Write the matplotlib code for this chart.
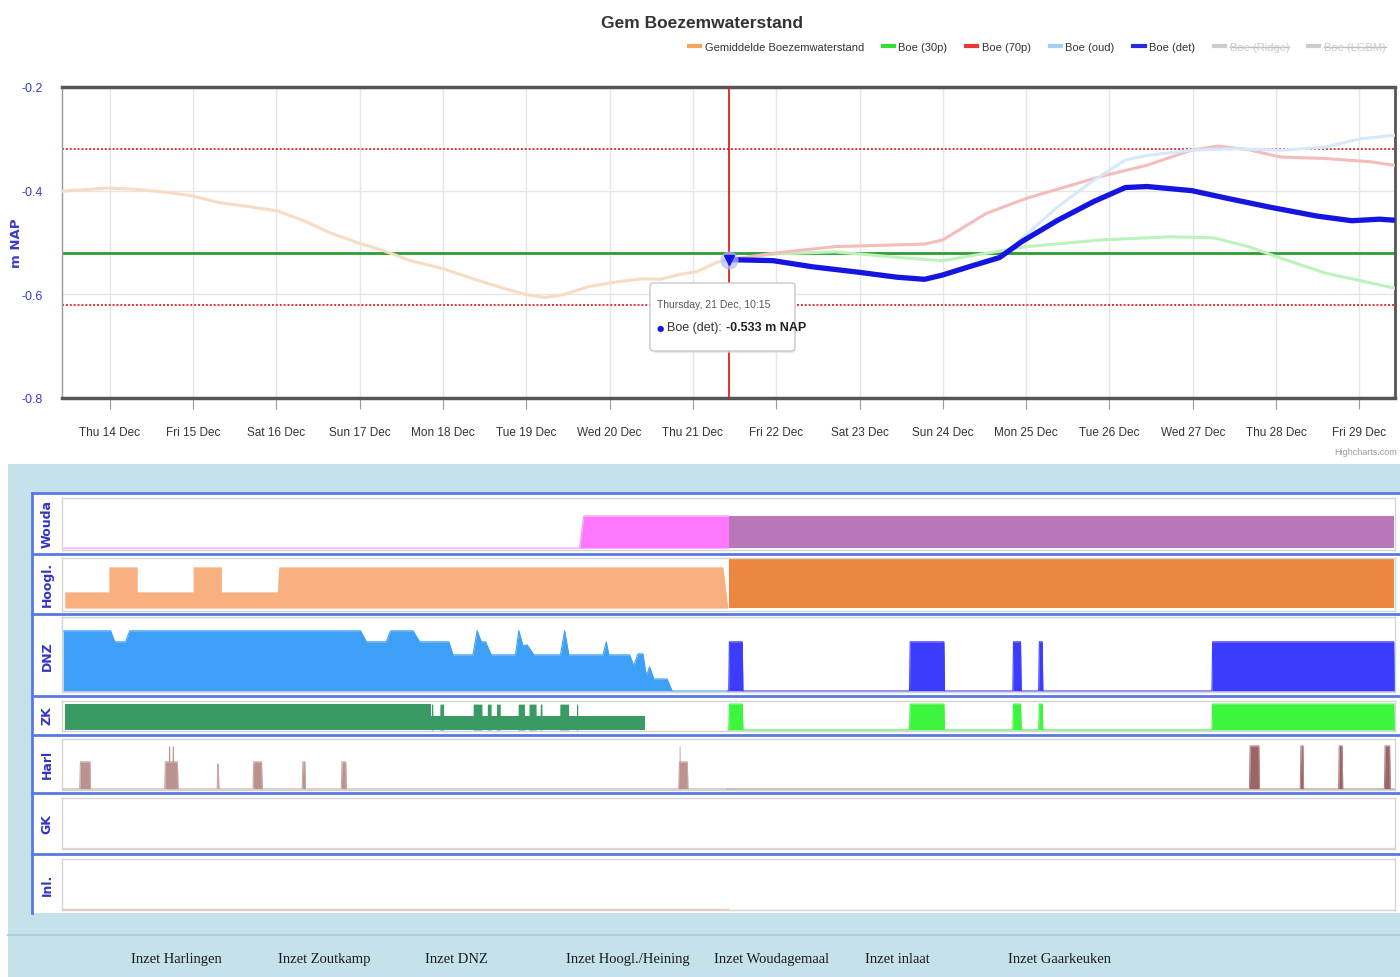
import numpy as np
import matplotlib
matplotlib.use('Agg')
import matplotlib.pyplot as plt
import matplotlib.dates as mdates
from matplotlib.patches import Rectangle, FancyBboxPatch
from matplotlib.lines import Line2D

# ---------------- data (days are day-of-month in December 2023) ----------------
x_range = [13.427, 29.427]
y_range = [-0.8, -0.2]
y_ticks = [-0.8, -0.6, -0.4, -0.2]
upper_limit = -0.32
lower_limit = -0.62
target_level = -0.52
now_day = 21.427

gem_days = [13.43, 13.97, 14.29, 14.72, 14.99, 15.31, 15.68, 16.01, 16.33, 16.64, 16.97,
            17.29, 17.61, 17.99, 18.36, 18.74, 19.01, 19.22, 19.44, 19.75, 20.08, 20.40,
            20.61, 20.83, 21.05, 21.29, 21.42]
gem_vals = [-0.401, -0.395, -0.397, -0.404, -0.410, -0.423, -0.431, -0.439, -0.458, -0.481,
            -0.500, -0.516, -0.535, -0.550, -0.570, -0.589, -0.601, -0.606, -0.601, -0.585,
            -0.576, -0.570, -0.571, -0.562, -0.556, -0.538, -0.533]

det_days = [21.43, 21.96, 22.44, 22.97, 23.45, 23.78, 23.99, 24.31, 24.68, 24.95, 25.38,
            25.81, 26.19, 26.45, 26.99, 27.42, 27.90, 28.49, 28.91, 29.24, 29.42]
det_vals = [-0.533, -0.535, -0.547, -0.557, -0.567, -0.571, -0.563, -0.547, -0.529, -0.498,
            -0.457, -0.421, -0.394, -0.392, -0.400, -0.415, -0.431, -0.449, -0.458, -0.455,
            -0.457]

oud_days = [21.43, 21.96, 22.44, 22.97, 23.45, 23.78, 23.99, 24.31, 24.68, 24.95, 25.38,
            25.81, 26.19, 26.45, 26.98, 27.52, 28.05, 28.59, 29.01, 29.42]
oud_vals = [-0.533, -0.535, -0.547, -0.557, -0.567, -0.571, -0.563, -0.547, -0.529, -0.492,
            -0.431, -0.380, -0.341, -0.332, -0.322, -0.319, -0.322, -0.316, -0.300, -0.293]

p70_days = [21.43, 22.0, 22.7, 23.78, 24.0, 24.52, 25.0, 25.91, 26.45, 26.98, 27.3, 27.67,
            28.05, 28.59, 29.12, 29.42]
p70_vals = [-0.533, -0.520, -0.508, -0.503, -0.495, -0.444, -0.415, -0.372, -0.351, -0.322,
            -0.314, -0.321, -0.335, -0.338, -0.344, -0.351]

p30_days = [21.43, 22.0, 22.7, 23.56, 24.0, 24.4, 25.0, 25.91, 26.72, 27.25, 27.67, 28.05,
            28.59, 29.42]
p30_vals = [-0.533, -0.522, -0.518, -0.530, -0.535, -0.524, -0.508, -0.495, -0.489, -0.491,
            -0.508, -0.530, -0.559, -0.588]

legend_names = ['Gemiddelde Boezemwaterstand', 'Boe (30p)', 'Boe (70p)', 'Boe (oud)',
                'Boe (det)', 'Boe (Ridge)', 'Boe (LGBM)']
legend_colors = ['#f7a35c', '#33dd33', '#e83838', '#a5cdf2', '#2b2bdb', '#cccccc', '#cccccc']
legend_hidden = [False, False, False, False, False, True, True]

tooltip_title = 'Thursday, 21 Dec, 10:15'
tooltip_series = 'Boe (det): '
tooltip_value = '-0.533 m NAP'

# lower panels
wouda_meas_days = [13.43, 19.64, 19.69, 21.43]
wouda_meas_vals = [0, 0, 1, 1]
wouda_fc_days = [21.43, 29.42]
wouda_fc_vals = [1, 1]

hoogl_meas_days = [13.46, 13.99, 13.99, 14.33, 14.33, 15.0, 15.0, 15.34, 15.34, 16.01, 16.03,
                   21.36, 21.42]
hoogl_meas_vals = [0.33, 0.33, 0.84, 0.84, 0.33, 0.33, 0.84, 0.84, 0.33, 0.33, 0.84, 0.84, 0.0]
hoogl_fc_days = [21.43, 29.42]
hoogl_fc_vals = [1.0, 1.0]

dnz_meas_days = [13.44, 14.01, 14.06, 14.19, 14.24, 17.01, 17.08, 17.32, 17.37, 17.64, 17.72,
                 18.07, 18.12, 18.36, 18.41, 18.46, 18.51, 18.58, 18.87, 18.91, 18.96, 19.01,
                 19.09, 19.41, 19.46, 19.51, 19.92, 19.96, 19.99, 20.24, 20.29, 20.34, 20.40,
                 20.44, 20.48, 20.53, 20.69, 20.75, 21.42]
dnz_meas_vals = [1.0, 1.0, 0.817, 0.817, 1.0, 1.0, 0.817, 0.817, 1.0, 1.0, 0.817, 0.817, 0.6,
                 0.6, 1.0, 0.817, 0.817, 0.6, 0.6, 1.0, 0.75, 0.767, 0.6, 0.6, 1.0, 0.6, 0.6,
                 0.817, 0.6, 0.6, 0.417, 0.617, 0.617, 0.25, 0.4, 0.2, 0.2, 0.0, 0.0]
fc_blocks = [(21.43, 21.60), (23.60, 24.02), (24.84, 24.94), (25.15, 25.20), (27.23, 29.42)]
dnz_fc_level = 0.817
zk_fc_level = 1.0

zk_full_span = (13.46, 17.86)
zk_low_span = (17.86, 20.43)
zk_low_level = 0.54
zk_spikes = [(17.86, 17.88), (17.96, 18.01), (18.36, 18.47), (18.53, 18.58), (18.64, 18.69),
             (18.90, 18.98), (19.03, 19.12), (19.165, 19.19), (19.40, 19.51), (19.60, 19.62)]

harl_meas_blocks = [(13.64, 13.77), (14.66, 14.82), (15.29, 15.31), (15.72, 15.83),
                    (16.31, 16.35), (16.78, 16.84), (20.83, 20.94)]
harl_meas_heights = [0.63, 0.63, 0.58, 0.63, 0.63, 0.63, 0.63]
harl_meas_spikes = [(14.70, 14.725), (14.745, 14.77), (20.83, 20.85)]
harl_fc_blocks = [(27.68, 27.80), (28.29, 28.33), (28.75, 28.80), (29.30, 29.37)]
harl_fc_height = 1.0

panel_names = ['Wouda', 'Hoogl.', 'DNZ', 'ZK', 'Harl', 'GK', 'Inl.']
bottom_labels = ['Inzet Harlingen', 'Inzet Zoutkamp', 'Inzet DNZ', 'Inzet Hoogl./Heining',
                 'Inzet Woudagemaal', 'Inzet inlaat', 'Inzet Gaarkeuken']

# ---------------- helpers ----------------
W, H = 1400, 978
BASE = np.datetime64('2023-12-01T00:00')


def dn(days):
    d = np.asarray(days, dtype=float)
    return mdates.date2num(BASE + np.round((d - 1.0) * 86400).astype('timedelta64[s]'))


def axes_px(x0, y0, x1, y1, **kw):
    return fig.add_axes([x0 / W, 1 - y1 / H, (x1 - x0) / W, (y1 - y0) / H], **kw)


def fx(px):
    return px / W


def fy(py):
    return 1 - py / H


def blocks_xy(blocks, heights, start, end, ramp=0.008):
    xs, ys = [start], [0.0]
    for (s, e), h in zip(blocks, heights):
        xs += [s, s + ramp, e - ramp, e]
        ys += [0.0, h, h, 0.0]
    xs.append(end)
    ys.append(0.0)
    return xs, ys


SANS = ['Liberation Sans', 'DejaVu Sans']
plt.rcParams['font.family'] = SANS

fig = plt.figure(figsize=(W / 100, H / 100), dpi=100)
fig.patch.set_facecolor('white')

# ---------------- backgrounds for lower section ----------------
fig.add_artist(Rectangle((fx(8), 0), 1 - fx(8), fy(465), transform=fig.transFigure,
                         fc='#c5e2eb', ec='none', zorder=-3))
fig.add_artist(Rectangle((fx(32), fy(914)), 1 - fx(32), (914 - 494) / H,
                         transform=fig.transFigure, fc='white', ec='none', zorder=-2))
fig.add_artist(Line2D([fx(8), 1], [fy(936), fy(936)], transform=fig.transFigure,
                      color='#b2d0db', lw=1.5, zorder=-1))

# ---------------- main chart ----------------
ax = axes_px(62, 88, 1395, 399)
ax.set_xlim(dn(x_range))
ax.set_ylim(*y_range)
ax.xaxis.set_major_locator(mdates.DayLocator())
ax.xaxis.set_major_formatter(mdates.DateFormatter('%a %d %b'))
ax.set_yticks(y_ticks)
ax.set_yticklabels([f'{v:.1f}' for v in y_ticks])
ax.tick_params(axis='x', length=8, color='#999999', labelsize=8.5, labelcolor='#333333', pad=12)
ax.tick_params(axis='y', length=0, labelsize=9, labelcolor='#3a3acc', pad=14)
ax.grid(True, color='#e6e6e6', lw=1)
ax.set_axisbelow(True)
for side, lw, c in [('top', 2.5, '#555555'), ('bottom', 2.5, '#555555'),
                    ('left', 1.0, '#999999'), ('right', 2.0, '#555555')]:
    ax.spines[side].set_linewidth(lw)
    ax.spines[side].set_color(c)

ax.axhline(upper_limit, color='#e83030', lw=1.4, ls=(0, (1, 1)), zorder=2)
ax.axhline(lower_limit, color='#e83030', lw=1.4, ls=(0, (1, 1)), zorder=2)
ax.axhline(target_level, color='#2e9e2e', lw=2.0, zorder=2)

ax.plot(dn(gem_days), gem_vals, color='#f7dcc4', lw=2.2, zorder=3, solid_capstyle='round')
ax.plot(dn(p30_days), p30_vals, color='#bdf2bd', lw=2.2, zorder=3)
ax.plot(dn(p70_days), p70_vals, color='#f5bcbc', lw=2.2, zorder=3)
ax.plot(dn(oud_days), oud_vals, color='#d6e9fb', lw=2.2, zorder=3)
ax.plot(dn(det_days), det_vals, color='#1515e0', lw=3.8, zorder=5, solid_capstyle='round',
        solid_joinstyle='round')
ax.axvline(dn([now_day])[0], color='#e02020', lw=1.3, zorder=6)
ax.plot(dn([now_day]), [det_vals[0]], marker='o', ms=13, color='#b0bcf2', alpha=0.7,
        mec='none', zorder=6)
ax.plot(dn([now_day]), [det_vals[0]], marker='v', ms=7, color='#1515e0', zorder=7)

fig.text(fx(16), fy(243), 'm NAP', rotation=90, ha='center', va='center', color='#3a3acc',
         fontsize=9.5, fontweight='bold', family='DejaVu Sans')

fig.text(fx(702), fy(28), 'Gem Boezemwaterstand', ha='center', va='baseline', fontsize=12.5,
         color='#333333', fontweight='bold')

fig.text(fx(1397), fy(453), 'Highcharts.com', ha='right', va='center', fontsize=6.5,
         color='#9a9a9a')

# legend
handles = [Line2D([], [], color=c, lw=3) for c in legend_colors]
leg = fig.legend(handles, legend_names, ncol=7, loc='center right',
                 bbox_to_anchor=(fx(1390), fy(48)), frameon=False, fontsize=8,
                 handlelength=1.0, handletextpad=0.4, columnspacing=1.7, borderaxespad=0)
for t, hidden in zip(leg.get_texts(), legend_hidden):
    t.set_color('#cccccc' if hidden else '#333333')

# tooltip box
fig.add_artist(FancyBboxPatch((fx(653), fy(354)), (795 - 653) / W, (354 - 286) / H,
                              boxstyle='round,pad=0,rounding_size=0.003',
                              transform=fig.transFigure, fc='#d8d8d8', ec='none',
                              alpha=0.6, zorder=8))
fig.add_artist(FancyBboxPatch((fx(650), fy(352)), (795 - 650) / W, (352 - 284) / H,
                              boxstyle='round,pad=0,rounding_size=0.003',
                              transform=fig.transFigure, fc='white', ec='#c8c8c8', lw=1,
                              zorder=9))
fig.text(fx(657), fy(305), tooltip_title, fontsize=7.5, color='#555555', va='center', zorder=10)

fig.canvas.draw()
renderer = fig.canvas.get_renderer()
t_dot = fig.text(fx(657), fy(328), '\u25cf', fontsize=6, color='#1515e0', va='center',
                 zorder=10, family='DejaVu Sans')
bb = t_dot.get_window_extent(renderer)
t_ser = fig.text((bb.x1 + 3) / W, fy(328), tooltip_series, fontsize=9, color='#333333',
                 va='center', zorder=10)
bb = t_ser.get_window_extent(renderer)
fig.text((bb.x1 + 1) / W, fy(328), tooltip_value, fontsize=9, color='#222222',
         fontweight='bold', va='center', zorder=10)

# strike-through for hidden legend items
for t, hidden in zip(leg.get_texts(), legend_hidden):
    if hidden:
        b = t.get_window_extent(renderer)
        ym = (b.y0 + b.y1) / 2
        fig.add_artist(Line2D([b.x0 / W, b.x1 / W], [ym / H, ym / H],
                              transform=fig.transFigure, color='#bbbbbb', lw=1))

# ---------------- lower panels ----------------
frames = [(499, 551), (559, 612), (618, 693), (702, 732), (740, 791), (799, 850), (860, 911)]
cells = [(494, 554), (555, 614), (615, 697), (697, 735), (736, 793), (794, 854), (855, 914)]
ylims = [(-0.06, 1.56), (-0.06, 1.02), (-0.017, 1.23), (-0.04, 1.12), (-0.023, 1.16),
         (-0.02, 1.0), (-0.02, 1.0)]

pax = []
for (y0, y1), yl in zip(frames, ylims):
    a = axes_px(62, y0, 1395, y1)
    a.set_xlim(dn(x_range))
    a.set_ylim(*yl)
    a.set_xticks([])
    a.set_yticks([])
    for s in a.spines.values():
        s.set_color('#d4d4d4')
        s.set_linewidth(1)
    pax.append(a)

for name, (y0, y1) in zip(panel_names, cells):
    la = axes_px(33, y0, 61, y1)
    la.axis('off')
    la.text(0.5, 0.5, name, rotation=90, ha='center', va='center', transform=la.transAxes,
            color='#3434c4', fontsize=9, fontweight='bold', family='DejaVu Sans', clip_on=True)

for yy in [494, 555, 614.5, 697, 735.5, 794, 854.5]:
    fig.add_artist(Line2D([fx(32), 1], [fy(yy), fy(yy)], transform=fig.transFigure,
                          color='#5a78e0', lw=2, zorder=3))
fig.add_artist(Line2D([fx(32), fx(32)], [fy(494), fy(914)], transform=fig.transFigure,
                      color='#5a78e0', lw=2, zorder=3))

# Wouda
a = pax[0]
a.fill_between(dn(wouda_meas_days), 0, wouda_meas_vals, color='#ff77ff', lw=0)
a.plot(dn(wouda_meas_days), wouda_meas_vals, color='#f0a8f0', lw=1)
a.fill_between(dn(wouda_fc_days), 0, wouda_fc_vals, color='#b877b8', lw=0)

# Hoogl
a = pax[1]
a.fill_between(dn(hoogl_meas_days), 0, hoogl_meas_vals, color='#f8b080', lw=0)
a.fill_between(dn(hoogl_fc_days), 0, hoogl_fc_vals, color='#ec8640', lw=0)

# DNZ
a = pax[2]
a.fill_between(dn(dnz_meas_days), 0, dnz_meas_vals, color='#3d9ff5', lw=0)
a.plot(dn(dnz_meas_days), dnz_meas_vals, color='#3d9ff5', lw=0.8)
xs, ys = blocks_xy(fc_blocks, [dnz_fc_level] * len(fc_blocks), 21.42, 29.42)
a.fill_between(dn(xs), 0, ys, color='#3c3cff', lw=0)
a.plot(dn(xs), ys, color='#3c3cff', lw=0.8)

# ZK
a = pax[3]
a.fill_between(dn(list(zk_full_span)), 0, [1.0, 1.0], color='#3a9a64', lw=0)
a.fill_between(dn(list(zk_low_span)), 0, [zk_low_level, zk_low_level], color='#3a9a64', lw=0)
xs, ys = blocks_xy(zk_spikes, [1.0] * len(zk_spikes), zk_low_span[0], zk_low_span[1], 0.003)
a.fill_between(dn(xs), 0, ys, color='#3a9a64', lw=0)
xs, ys = blocks_xy(fc_blocks, [zk_fc_level] * len(fc_blocks), 21.42, 29.42)
a.fill_between(dn(xs), 0, ys, color='#3cf53c', lw=0)
a.plot(dn(xs), ys, color='#3cf53c', lw=0.8)

# Harl
a = pax[4]
xs, ys = blocks_xy(harl_meas_blocks, harl_meas_heights, 13.43, 21.42)
a.fill_between(dn(xs), 0, ys, color='#bb938e', lw=0)
a.plot(dn(xs), ys, color='#c9a7a3', lw=0.8)
xs, ys = blocks_xy(harl_meas_spikes, [1.0] * len(harl_meas_spikes), 14.0, 21.0, 0.006)
a.fill_between(dn(xs), 0, ys, color='#bb938e', lw=0)
xs, ys = blocks_xy(harl_fc_blocks, [harl_fc_height] * len(harl_fc_blocks), 21.42, 29.42)
a.fill_between(dn(xs), 0, ys, color='#9c6464', lw=0)
a.plot(dn(xs), ys, color='#b08888', lw=0.8)

# GK and Inl. (no activity)
pax[5].plot(dn([13.43, 29.42]), [0, 0], color='#d8d8d8', lw=1)
pax[6].plot(dn([13.43, 21.42]), [0, 0], color='#f4c8a8', lw=1)

# bottom buttons
for label, cx in zip(bottom_labels, [176, 324, 456, 628, 772, 897, 1060]):
    fig.text(fx(cx), fy(960), label, ha='center', va='center', fontsize=10.5,
             color='#1a1a1a', family=['Liberation Serif', 'DejaVu Serif'])

fig.savefig('out.png', dpi=100)
